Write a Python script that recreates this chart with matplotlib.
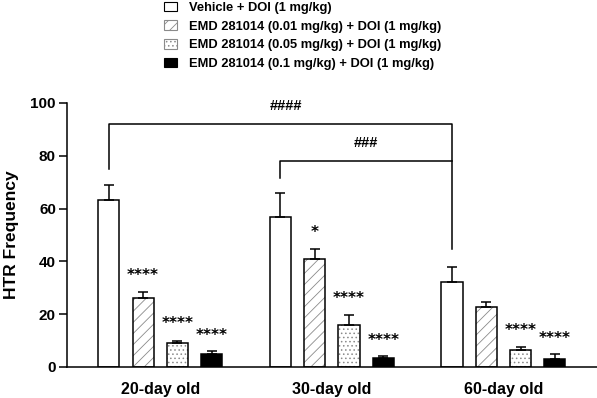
import matplotlib
matplotlib.use("Agg")
import matplotlib.pyplot as plt
import numpy as np

plt.rcParams['font.family'] = ['Liberation Sans', 'DejaVu Sans']
plt.rcParams['hatch.linewidth'] = 0.6

groups = ["20-day old", "30-day old", "60-day old"]
series = ["Vehicle + DOI (1 mg/kg)",
          "EMD 281014 (0.01 mg/kg) + DOI (1 mg/kg)",
          "EMD 281014 (0.05 mg/kg) + DOI (1 mg/kg)",
          "EMD 281014 (0.1 mg/kg) + DOI (1 mg/kg)"]
means = [[63.3, 56.7, 32.1],
         [26.0, 40.8, 22.7],
         [9.0, 15.9, 6.6],
         [4.8, 3.3, 3.0]]
sems = [[5.5, 9.1, 5.7],
        [2.4, 3.9, 2.0],
        [1.0, 3.8, 0.8],
        [1.3, 0.7, 1.9]]
stars = [["", "", ""],
         ["****", "*", ""],
         ["****", "****", "****"],
         ["****", "****", "****"]]
star_y = [[0, 0, 0],
          [34.8, 50.9, 0],
          [16.3, 25.8, 13.8],
          [12.1, 10.0, 10.9]]
yticks = [0, 20, 40, 60, 80, 100]

faces = ["white", "white", "white", "black"]
hatches = [None, "///", "....", None]
hatch_col = "#8a8a8a"

fig = plt.figure(figsize=(5.97, 3.98), dpi=100)
ax = fig.add_axes([67/597, 31/398, 530/597, 264/398])

gpos = np.arange(len(groups)) * 5.0
offs = [-1.5, -0.5, 0.5, 1.5]
w = 0.62
for i in range(4):
    x = gpos + offs[i]
    if hatches[i]:
        ax.bar(x, means[i], width=w, facecolor=faces[i], edgecolor=hatch_col,
               hatch=hatches[i], linewidth=0, zorder=2)
        ax.bar(x, means[i], width=w, facecolor="none", edgecolor="black",
               linewidth=1.1, zorder=2.5)
    else:
        ax.bar(x, means[i], width=w, facecolor=faces[i], edgecolor="black",
               linewidth=1.1, zorder=2)
    ax.errorbar(x, means[i], yerr=[np.zeros(3), sems[i]], fmt="none",
                ecolor="black", elinewidth=1.1, capsize=3.5, capthick=1.1, zorder=3)
    for j in range(3):
        if stars[i][j]:
            ax.text(x[j], star_y[i][j], stars[i][j], ha="center", va="center",
                    fontsize=11, fontweight="bold", family="DejaVu Sans")

# significance brackets
g1v = gpos[0] + offs[0]
g2v = gpos[1] + offs[0]
g3v = gpos[2] + offs[0]
ax.plot([g1v, g1v, g3v, g3v], [75, 92, 92, 44.7], color="black", lw=1.1, clip_on=False)
ax.plot([g2v, g2v, g3v], [71.7, 78.1, 78.1], color="black", lw=1.1, clip_on=False)
ax.text((285 - 159.5) / 34.3, 98.9, "####", ha="center", va="center",
        fontsize=10.5, fontweight="bold")
ax.text((365 - 159.5) / 34.3, 85, "###", ha="center", va="center",
        fontsize=10.5, fontweight="bold")

ax.set_xlim(-2.72, 12.73)
ax.set_ylim(0, 100)
ax.set_yticks(yticks)
ax.set_yticklabels([str(t) for t in yticks], fontsize=11, fontweight="bold")
ax.set_xticks(gpos)
ax.set_xticklabels(groups, fontsize=11.5, fontweight="bold")
ax.tick_params(axis="x", length=0, pad=11)
ax.tick_params(axis="y", length=6, width=1.1, pad=2)
ax.set_ylabel("HTR Frequency", fontsize=12.5, fontweight="bold", labelpad=8)
for s in ["top", "right"]:
    ax.spines[s].set_visible(False)
for s in ["left", "bottom"]:
    ax.spines[s].set_linewidth(1.1)

handles = [plt.Rectangle((0, 0), 1, 1, facecolor=faces[i],
                         edgecolor=(hatch_col if hatches[i] else "black"),
                         hatch=hatches[i], linewidth=0.8) for i in range(4)]
fig.legend(handles, series, loc="upper left", bbox_to_anchor=(152/597, 1.025),
           frameon=False, prop={"size": 9.3, "weight": "bold"},
           handlelength=1.0, handleheight=0.75, handletextpad=1.0, labelspacing=0.5)

fig.savefig("out.png", dpi=100)
